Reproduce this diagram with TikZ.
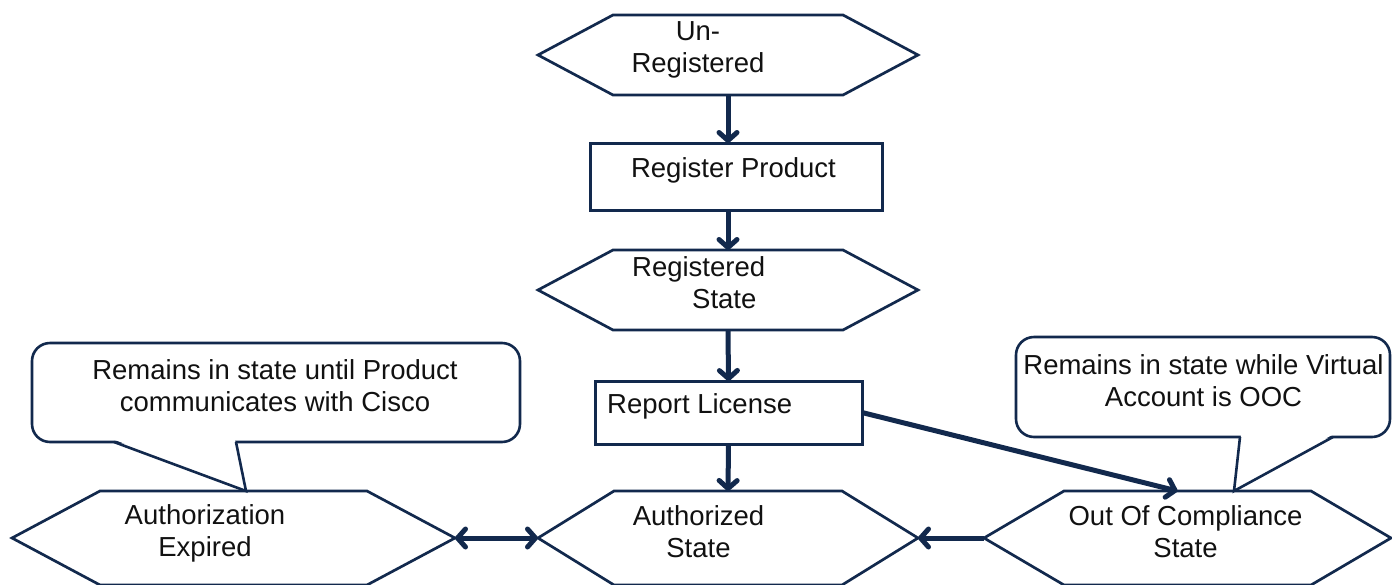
\documentclass[tikz,border=0pt]{standalone}
\usepackage{fontspec}
\setmainfont{Liberation Sans}
\usetikzlibrary{arrows.meta}
\definecolor{navy}{HTML}{12294D}
\definecolor{ink}{HTML}{111111}
\newcommand{\mainsize}{\fontsize{27.5}{32}\selectfont}
\newcommand{\hexag}[2]{%
  \draw[shapeline] (#1.west) -- ([xshift=#2]#1.north west) -- ([xshift=-#2]#1.north east)
    -- (#1.east) -- ([xshift=-#2]#1.south east) -- ([xshift=#2]#1.south west) -- cycle;}
\tikzset{
  myhead/.tip={Straight Barb[length=8pt,width=18pt,round]},
  shapebox/.style={inner sep=0pt, outer sep=0pt},
  shapeline/.style={draw=navy, line width=2.7pt, line join=miter},
  boxnode/.style={draw=navy, line width=3pt, inner sep=0pt, outer sep=0pt},
  callout/.style={draw=navy, line width=2.6pt, rounded corners=18pt, fill=white, inner sep=0pt, outer sep=0pt},
  callline/.style={draw=navy, line width=2.6pt},
  txt/.style={inner sep=0pt, align=center, font=\mainsize, text=ink},
  arr/.style={draw=navy, line width=5pt, -myhead},
  dblarr/.style={draw=navy, line width=5pt, myhead-myhead}
}
\begin{document}
\begin{tikzpicture}[x=1pt,y=-1pt]
\useasboundingbox (0,0) rectangle (1392,584);

% shapes
\node[shapebox, minimum width=380pt, minimum height=80pt] (unreg) at (728,55) {};
\node[boxnode, minimum width=292pt, minimum height=67pt] (regprod) at (736,176.5) {};
\node[shapebox, minimum width=380pt, minimum height=80pt] (regstate) at (728,290) {};
\node[boxnode, minimum width=267pt, minimum height=63pt] (rl) at (728.5,412.5) {};
\node[shapebox, minimum width=443pt, minimum height=94pt] (authexp) at (233.5,538) {};
\node[shapebox, minimum width=380pt, minimum height=94pt] (auth) at (728,538) {};
\node[shapebox, minimum width=407pt, minimum height=94pt] (ooc) at (1187.5,538) {};

% callouts
\node[callout, minimum width=488pt, minimum height=99pt] (callL) at (276,392.5) {};
\node[callout, minimum width=374pt, minimum height=100pt] (callR) at (1203,387) {};
\coordinate (tipL) at (246,491);
\coordinate (tipR) at (1234,491);
\fill[white] ([xshift=83pt,yshift=2pt]callL.south west) -- (tipL) -- ([xshift=203pt,yshift=2pt]callL.south west) -- cycle;
\draw[callline] ([xshift=82pt]callL.south west) -- (tipL) -- ([xshift=204pt]callL.south west);
\fill[white] ([xshift=225pt,yshift=2pt]callR.south west) -- (tipR) -- ([xshift=316pt,yshift=2pt]callR.south west) -- cycle;
\draw[callline] ([xshift=224pt]callR.south west) -- (tipR) -- ([xshift=317pt]callR.south west);

% hexagons
\hexag{unreg}{75pt}
\hexag{regstate}{75pt}
\hexag{authexp}{88pt}
\hexag{auth}{76pt}
\hexag{ooc}{80pt}

% connectors
\draw[arr] (unreg.south) -- (unreg.south |- regprod.north);
\draw[arr] (regprod.south -| regstate.north) -- (regstate.north);
\draw[arr] (regstate.south) -- (rl.north);
\draw[arr] (rl.south) -- (auth.north);
\draw[arr] (rl.east) -- ([xshift=-10pt]ooc.north);
\draw[dblarr] (authexp.east) -- (auth.west);
\draw[arr] (ooc.west) -- (auth.east);

% texts
\node[txt] (unregT) at (698,50) {Un-\\Registered};
\node[txt] (regprodT) at (733.5,170) {Register Product};
\node[txt, align=left, anchor=west] (regstateT) at (632,283) {Registered\\\hspace*{60pt}State};
\node[txt, anchor=west] (rlT) at (607,406) {Report License};
\node[txt] (authexpT) at (205,533) {Authorization\\Expired};
\node[txt] (authT) at (698.5,532) {Authorized\\State};
\node[txt] (oocT) at (1185.5,532) {Out Of Compliance\\State};
\node[txt] (callLT) at (275,386) {Remains in state until Product\\communicates with Cisco};
\node[txt] (callRT) at (1203.5,381) {Remains in state while Virtual\\Account is OOC};
\end{tikzpicture}
\end{document}
